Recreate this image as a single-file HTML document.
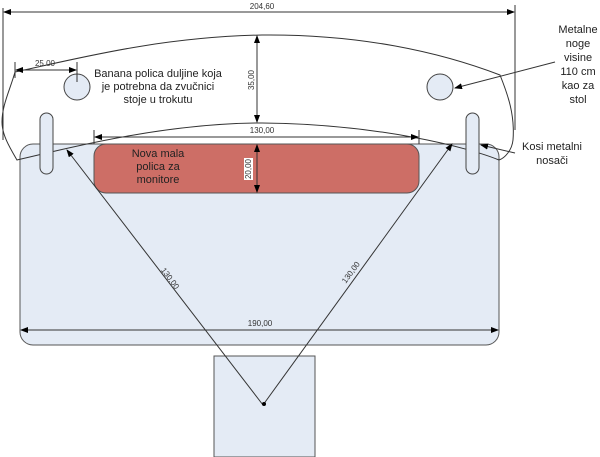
<!DOCTYPE html>
<html><head><meta charset="utf-8"><style>
html,body{margin:0;padding:0;background:#fff;}
svg{display:block;font-family:"Liberation Sans",sans-serif;}
</style></head><body>
<svg width="600" height="457" viewBox="0 0 600 457" xmlns="http://www.w3.org/2000/svg">
<defs>
<marker id="a" markerWidth="8" markerHeight="6" refX="7" refY="3" orient="auto" markerUnits="userSpaceOnUse"><path d="M0,0 L8,3 L0,6 z" fill="#000"/></marker>
<marker id="s" markerWidth="8" markerHeight="6" refX="1" refY="3" orient="auto" markerUnits="userSpaceOnUse"><path d="M8,0 L0,3 L8,6 z" fill="#000"/></marker>
</defs>
<rect x="20" y="144" width="479" height="201" rx="13" fill="#e4ebf5" stroke="#555" stroke-width="1"/>
<rect x="214" y="356" width="101" height="101" fill="#e4ebf5" stroke="#555" stroke-width="1"/>
<path d="M15,72 C80,58 160,37 262,35 C360,34 440,52 500,75 C508,95 515,115 513,140 C512,150 505,158 499,160 C470,148 380,124 262,123 C170,123 80,145 17,160 C10,148 2,135 2,122 C2,105 10,90 15,72 Z" fill="none" stroke="#333" stroke-width="1"/>
<rect x="94" y="144" width="325" height="49" rx="12" fill="#cd6e66" stroke="#555" stroke-width="1"/>
<circle cx="77" cy="87" r="13" fill="#e4ebf5" stroke="#444"/>
<circle cx="440" cy="87" r="13" fill="#e4ebf5" stroke="#444"/>
<rect x="40" y="113" width="13" height="61" rx="6.5" fill="#e4ebf5" stroke="#444"/>
<rect x="466" y="113" width="13" height="61" rx="6.5" fill="#e4ebf5" stroke="#444"/>
<line x1="3" y1="8" x2="3" y2="140" stroke="#333"/>
<line x1="515" y1="5" x2="515" y2="130" stroke="#333"/>
<line x1="4" y1="12" x2="514" y2="12" stroke="#333" marker-start="url(#s)" marker-end="url(#a)"/>
<text x="262" y="9" font-size="8" text-anchor="middle" fill="#333">204,60</text>
<line x1="15" y1="62" x2="15" y2="78" stroke="#333"/>
<line x1="77" y1="62" x2="77" y2="82" stroke="#333"/>
<line x1="16" y1="70" x2="76" y2="70" stroke="#333" marker-start="url(#s)" marker-end="url(#a)"/>
<text x="45" y="66" font-size="8" text-anchor="middle" fill="#333">25.00</text>
<line x1="257" y1="36" x2="257" y2="122" stroke="#333" marker-start="url(#s)" marker-end="url(#a)"/>
<text x="254" y="80" font-size="8" fill="#333" transform="rotate(-90 254 80)" text-anchor="middle">35,00</text>
<line x1="94" y1="130" x2="94" y2="144" stroke="#333"/>
<line x1="419" y1="130" x2="419" y2="144" stroke="#333"/>
<line x1="95" y1="137" x2="418" y2="137" stroke="#333" marker-start="url(#s)" marker-end="url(#a)"/>
<text x="262" y="133" font-size="8" text-anchor="middle" fill="#333">130,00</text>
<line x1="257" y1="145" x2="257" y2="192" stroke="#333" marker-start="url(#s)" marker-end="url(#a)"/>
<rect x="244" y="158" width="9" height="22" fill="#fff"/>
<text x="251" y="169" font-size="8" fill="#333" transform="rotate(-90 251 169)" text-anchor="middle">20,00</text>
<line x1="67" y1="150" x2="263" y2="405" stroke="#333" marker-start="url(#s)"/>
<line x1="452" y1="144" x2="263" y2="405" stroke="#333" marker-start="url(#s)"/>
<circle cx="264" cy="404" r="2" fill="#000"/>
<text x="168" y="280" font-size="8" fill="#333" transform="rotate(53 168 280)" text-anchor="middle">130,00</text>
<text x="353" y="274" font-size="8" fill="#333" transform="rotate(-54 353 274)" text-anchor="middle">130,00</text>
<line x1="21" y1="330" x2="498" y2="330" stroke="#333" marker-start="url(#s)" marker-end="url(#a)"/>
<text x="260" y="326" font-size="8" text-anchor="middle" fill="#333">190,00</text>
<line x1="555" y1="62" x2="455" y2="88" stroke="#333" marker-end="url(#a)"/>
<line x1="515" y1="153" x2="481" y2="145" stroke="#333" marker-end="url(#a)"/>
<g font-size="11" fill="#222" text-anchor="middle">
<text x="158" y="77">Banana polica duljine koja</text>
<text x="158" y="90">je potrebna da zvučnici</text>
<text x="158" y="103">stoje u trokutu</text>
<text x="158" y="157">Nova mala</text>
<text x="158" y="170">polica za</text>
<text x="158" y="183">monitore</text>
<text x="578" y="33">Metalne</text>
<text x="578" y="47">noge</text>
<text x="578" y="61">visine</text>
<text x="578" y="75">110 cm</text>
<text x="578" y="89">kao za</text>
<text x="578" y="103">stol</text>
<text x="552" y="150">Kosi metalni</text>
<text x="552" y="164">nosači</text>
</g>
</svg>
</body></html>
